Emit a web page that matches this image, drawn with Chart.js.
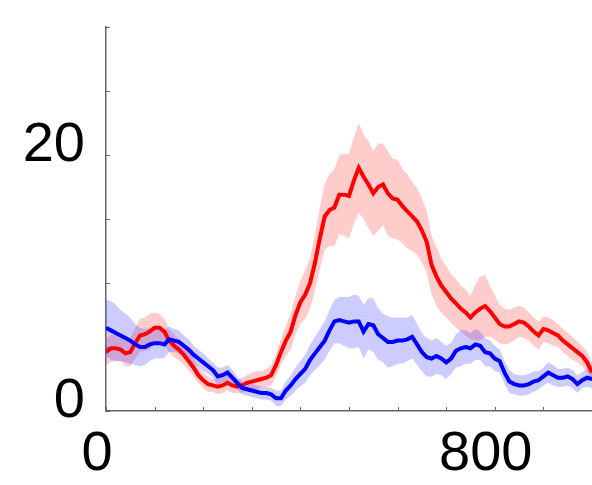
<!DOCTYPE html>
<html>
<head>
<meta charset="utf-8">
<script src="https://cdn.jsdelivr.net/npm/chart.js@4.4.1/dist/chart.umd.min.js"></script>
<style>
  html, body { margin: 0; padding: 0; background: #fff; }
  #wrap { width: 592px; height: 485px; }
</style>
</head>
<body>
<div id="wrap"><canvas id="traceChart"></canvas></div>
<script>
// time points, every 10 units from 0 to 1000
const times = Array.from({ length: 101 }, (_, i) => i * 10);

const blueMean = [
    6.5, 6.3, 6.1, 5.9, 5.7, 5.5, 5.2, 5.0, 5.0, 5.2,
    5.3, 5.3, 5.2, 5.6, 5.5, 5.4, 5.1, 4.8, 4.4, 4.1,
    3.8, 3.5, 3.2, 2.7, 2.8, 3.0, 2.6, 2.2, 1.8, 1.7,
    1.6, 1.5, 1.4, 1.4, 1.3, 1.0, 1.0, 1.6, 2.0, 2.5,
    2.9, 3.3, 4.0, 4.5, 5.0, 5.5, 6.3, 7.0, 7.1, 7.0,
    6.9, 7.0, 7.0, 6.2, 6.8, 6.7, 6.0, 5.7, 5.4, 5.4,
    5.5, 5.5, 5.6, 5.8, 5.2, 4.6, 4.2, 4.1, 4.3, 4.1,
    3.8, 4.1, 4.7, 4.9, 5.0, 4.9, 5.2, 5.1, 4.6, 4.5,
    4.1, 3.9, 3.0, 2.3, 2.1, 2.0, 2.0, 2.1, 2.3, 2.4,
    2.7, 3.0, 2.8, 2.6, 2.6, 2.7, 2.5, 2.1, 2.4, 2.6,
    2.5
];
const blueSem = [
    2.2, 2.3, 2.2, 2.0, 1.9, 1.8, 1.6, 1.5, 1.4, 1.3,
    1.2, 1.2, 1.1, 1.0, 0.9, 0.9, 0.8, 0.8, 0.7, 0.7,
    0.7, 0.6, 0.6, 0.7, 0.6, 0.6, 0.6, 0.5, 0.5, 0.5,
    0.5, 0.5, 0.5, 0.5, 0.5, 0.6, 0.6, 0.7, 0.8, 0.9,
    1.0, 1.1, 1.2, 1.3, 1.4, 1.5, 1.6, 1.7, 1.8, 1.9,
    2.0, 2.1, 2.0, 2.1, 2.0, 2.1, 2.0, 1.9, 2.0, 1.9,
    1.8, 1.8, 1.7, 1.7, 1.6, 1.5, 1.5, 1.4, 1.4, 1.3,
    1.3, 1.2, 1.3, 1.4, 1.3, 1.2, 1.2, 1.1, 1.1, 1.0,
    1.0, 0.9, 0.9, 0.9, 0.8, 0.8, 0.8, 0.8, 0.8, 0.7,
    0.7, 0.8, 0.8, 0.7, 0.7, 0.7, 0.7, 0.7, 0.6, 0.7,
    0.7
];

const redMean = [
    4.6, 4.9, 4.9, 4.8, 4.5, 4.6, 5.3, 5.9, 6.0, 6.2,
    6.5, 6.5, 6.2, 5.5, 5.1, 4.8, 4.4, 3.9, 3.4, 2.8,
    2.4, 2.1, 2.0, 1.9, 2.0, 2.2, 2.0, 1.9, 2.0, 2.2,
    2.3, 2.4, 2.5, 2.6, 2.8, 3.6, 4.6, 5.5, 6.2, 7.5,
    8.5, 9.1, 10.0, 11.6, 13.5, 15.2, 15.7, 15.9, 16.9, 16.9,
    16.8, 18.0, 19.0, 18.3, 17.7, 17.0, 17.5, 17.7, 17.0, 16.6,
    16.5, 16.0, 15.6, 15.2, 14.8, 14.1, 13.2, 11.4, 10.5, 9.8,
    9.3, 8.8, 8.4, 8.0, 7.7, 7.3, 7.7, 8.0, 8.2, 7.8,
    7.3, 6.8, 6.6, 6.6, 6.8, 7.0, 6.9, 6.6, 6.2, 5.9,
    6.4, 6.3, 6.1, 5.9, 5.5, 5.2, 4.9, 4.6, 4.3, 3.8,
    3.0
];
const redSem = [
    1.0, 1.1, 1.0, 0.9, 1.0, 1.1, 1.2, 1.3, 1.3, 1.4,
    1.2, 1.1, 1.0, 0.9, 0.9, 0.8, 0.8, 0.7, 0.7, 0.6,
    0.6, 0.6, 0.5, 0.6, 0.6, 0.6, 0.6, 0.5, 0.6, 0.6,
    0.7, 0.7, 0.6, 0.7, 0.8, 0.9, 1.0, 1.2, 1.4, 1.5,
    1.7, 1.9, 2.0, 2.2, 2.4, 2.6, 2.8, 3.0, 3.1, 3.2,
    3.3, 3.4, 3.5, 3.3, 3.4, 3.3, 3.4, 3.2, 3.3, 3.1,
    3.1, 2.9, 2.9, 2.7, 2.6, 2.5, 2.4, 2.3, 2.3, 2.1,
    2.0, 1.9, 1.9, 1.8, 1.8, 1.7, 2.2, 2.5, 2.4, 2.0,
    1.7, 1.5, 1.4, 1.3, 1.3, 1.2, 1.2, 1.1, 1.1, 1.1,
    1.0, 1.0, 1.0, 0.9, 0.9, 0.9, 0.9, 0.8, 0.8, 0.8,
    0.8
];

const xTickLabels = [0, 800];
const yTickLabels = [0, 20];

const FONT = 'Liberation Sans, Arial, Helvetica, sans-serif';
const AXIS_COLOR = '#666';

function points(values) {
    return times.map((t, i) => ({ x: t, y: values[i] }));
}
function band(mean, sem, sign) {
    return times.map((t, i) => ({ x: t, y: mean[i] + sign * sem[i] }));
}

// small tick marks pointing into the plot
const innerTicks = {
    id: 'innerTicks',
    afterDraw(chart) {
        const ctx = chart.ctx;
        const area = chart.chartArea;
        const xs = chart.scales.x, ys = chart.scales.y;
        ctx.save();
        ctx.strokeStyle = AXIS_COLOR;
        ctx.lineWidth = 1;
        ctx.beginPath();
        xs.ticks.forEach(t => {
            const px = Math.round(xs.getPixelForValue(t.value)) + 0.5;
            ctx.moveTo(px, area.bottom);
            ctx.lineTo(px, area.bottom - 4);
        });
        ys.ticks.forEach(t => {
            const py = Math.round(ys.getPixelForValue(t.value)) + 0.5;
            ctx.moveTo(area.left, py);
            ctx.lineTo(area.left + 4, py);
        });
        ctx.stroke();
        ctx.restore();
    }
};

const lineStyle = { pointRadius: 0, borderWidth: 4, tension: 0, fill: false };
const bandStyle = { pointRadius: 0, borderWidth: 0, borderColor: 'rgba(0,0,0,0)', tension: 0 };

new Chart(document.getElementById('traceChart'), {
    type: 'line',
    data: {
        datasets: [
            { ...lineStyle, data: points(blueMean), borderColor: '#0000ff', order: 0 },
            { ...lineStyle, data: points(redMean), borderColor: '#ff0000', order: 1 },
            { ...bandStyle, data: band(blueMean, blueSem, 1), fill: '+1', backgroundColor: 'rgba(40,40,255,0.24)', order: 2 },
            { ...bandStyle, data: band(blueMean, blueSem, -1), fill: false, order: 3 },
            { ...bandStyle, data: band(redMean, redSem, 1), fill: '+1', backgroundColor: 'rgba(255,40,40,0.24)', order: 4 },
            { ...bandStyle, data: band(redMean, redSem, -1), fill: false, order: 5 }
        ]
    },
    options: {
        animation: false,
        responsive: true,
        maintainAspectRatio: false,
        layout: { padding: { top: 27, left: 0, right: 0, bottom: 0 } },
        plugins: {
            legend: { display: false },
            tooltip: { enabled: false }
        },
        scales: {
            x: {
                type: 'linear',
                min: 0,
                max: 1000,
                grid: { display: false, drawTicks: false },
                border: { display: true, color: AXIS_COLOR, width: 1.5 },
                ticks: {
                    stepSize: 100,
                    autoSkip: false,
                    maxRotation: 0,
                    minRotation: 0,
                    padding: 10,
                    labelOffset: -9,
                    color: '#000',
                    font: { family: FONT, size: 56 },
                    callback: v => xTickLabels.includes(v) ? String(v) : ''
                },
                afterFit: s => {
                    s.height = 74;
                    s.paddingLeft = 0;
                    s.paddingRight = 0;
                }
            },
            y: {
                min: 0,
                max: 30,
                grid: { display: false, drawTicks: false },
                border: { display: true, color: AXIS_COLOR, width: 1.5 },
                ticks: {
                    stepSize: 5,
                    autoSkip: false,
                    padding: 21,
                    labelOffset: -9,
                    color: '#000',
                    font: { family: FONT, size: 56 },
                    callback: v => yTickLabels.includes(v) ? String(v) : ''
                },
                afterFit: s => {
                    s.width = 106;
                    s.paddingTop = 0;
                    s.paddingBottom = 0;
                }
            }
        }
    },
    plugins: [innerTicks]
});
</script>
</body>
</html>
